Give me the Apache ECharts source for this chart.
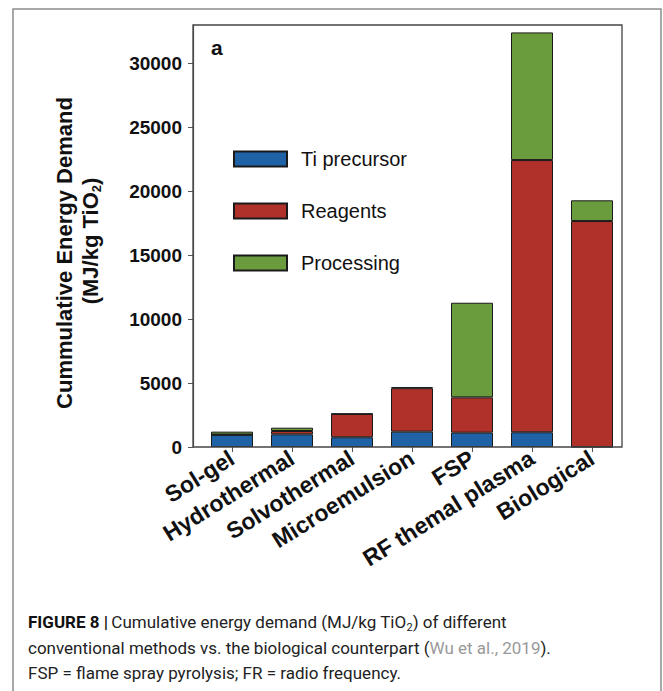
<!DOCTYPE html>
<html><head><meta charset="utf-8">
<script src="https://cdn.jsdelivr.net/npm/echarts@6/dist/echarts.min.js"></script>
<style>html,body{margin:0;padding:0;background:#fff}#c{width:663px;height:691px}</style>
</head><body><div id="c"></div>
<script>
const categories = ['Sol-gel', 'Hydrothermal', 'Solvothermal', 'Microemulsion', 'FSP', 'RF themal plasma', 'Biological'];
const tiPrecursor = [950, 990, 760, 1200, 1120, 1150, 0];
const reagents = [20, 260, 1820, 3400, 2760, 21290, 17670];
const processing = [230, 260, 30, 80, 7400, 9980, 1620];
const yTickValues = [0, 5000, 10000, 15000, 20000, 25000, 30000];
const seriesNames = ['Ti precursor', 'Reagents', 'Processing'];

const FONT = '"Liberation Sans", Arial, Helvetica, sans-serif';
const CAP_FONT = 'Roboto, "Liberation Sans", sans-serif';
const colors = ['#1f62a6', '#b0302a', '#6a9b3c'];

const chart = echarts.init(document.getElementById('c'), null, {renderer: 'svg'});

function mk(name, data, color) {
  return {
    name: name, type: 'bar', stack: 'total', data: data, barWidth: 42,
    itemStyle: {color: color, borderColor: '#1a1a1a', borderWidth: 1}
  };
}

const option = {
  animation: false,
  backgroundColor: '#fff',
  grid: {left: 202, right: 41, top: 25, bottom: 244},
  xAxis: {
    type: 'category', data: categories,
    axisLine: {show: false},
    axisTick: {show: true, alignWithLabel: true, length: 5, lineStyle: {color: '#555'}},
    axisLabel: {rotate: 32, interval: 0, fontFamily: FONT, fontWeight: 'bold', fontSize: 23, color: '#111', margin: 9}
  },
  yAxis: {
    type: 'value', min: 0, max: 33000, interval: 5000, offset: 9,
    splitLine: {show: false},
    axisLine: {show: true, lineStyle: {color: '#555', width: 1.2}},
    axisTick: {show: true, length: 5, lineStyle: {color: '#555'}, customValues: yTickValues},
    axisLabel: {fontFamily: FONT, fontWeight: 'bold', fontSize: 19, color: '#111', margin: 11,
      customValues: yTickValues, formatter: function (v) { return String(v); }}
  },
  legend: {
    orient: 'vertical', left: 233, top: 149, padding: 0, itemWidth: 53, itemHeight: 15, itemGap: 32,
    icon: 'rect',
    data: seriesNames,
    textStyle: {fontFamily: FONT, fontSize: 20, color: '#111', padding: [0, 0, 0, 9]}
  },
  series: [
    mk(seriesNames[0], tiPrecursor, colors[0]),
    mk(seriesNames[1], reagents, colors[1]),
    mk(seriesNames[2], processing, colors[2])
  ],
  graphic: [
    {type: 'rect', silent: true, z: 100, shape: {x: 13, y: 9, width: 648, height: 700},
     style: {fill: 'none', stroke: '#8c8c8c', lineWidth: 1.5}},
    {type: 'rect', silent: true, z: 100, shape: {x: 193, y: 25, width: 429, height: 422},
     style: {fill: 'none', stroke: '#444', lineWidth: 1.3}},
    {type: 'text', silent: true, x: 211, y: 47,
     style: {text: 'a', fontFamily: FONT, fontWeight: 'bold', fontSize: 21, fill: '#111', align: 'left', verticalAlign: 'middle'}},
    {type: 'text', silent: true, x: 64, y: 253, rotation: Math.PI / 2,
     style: {
       text: 'Cummulative Energy Demand', fontFamily: FONT, fontWeight: 'bold', fontSize: 22, fill: '#111',
       align: 'center', verticalAlign: 'middle'
     }},
    {type: 'text', silent: true, x: 90, y: 241, rotation: Math.PI / 2,
     style: {
       text: '{b|(MJ/kg TiO}{s|2}{b|)}',
       align: 'center', verticalAlign: 'middle',
       rich: {
         b: {fontFamily: FONT, fontWeight: 'bold', fontSize: 22, lineHeight: 26, fill: '#111'},
         s: {fontFamily: FONT, fontWeight: 'bold', fontSize: 13, lineHeight: 13, verticalAlign: 'bottom', fill: '#111'}
       }
     }},
    {type: 'text', silent: true, x: 28, y: 622,
     style: {
       text: '{b|FIGURE 8 |} {n|Cumulative energy demand (MJ/kg TiO}{s|2}{n|) of different}',
       align: 'left', verticalAlign: 'middle',
       rich: {
         b: {fontFamily: CAP_FONT, fontWeight: 'bold', fontSize: 17, lineHeight: 22, fill: '#111'},
         n: {fontFamily: CAP_FONT, fontSize: 17, lineHeight: 22, fill: '#222'},
         s: {fontFamily: CAP_FONT, fontSize: 11, lineHeight: 11, verticalAlign: 'bottom', fill: '#222'}
       }
     }},
    {type: 'text', silent: true, x: 28, y: 648,
     style: {
       text: '{n|conventional methods vs. the biological counterpart (}{g|Wu et al., 2019}{n|).}',
       align: 'left', verticalAlign: 'middle',
       rich: {
         n: {fontFamily: CAP_FONT, fontSize: 17, lineHeight: 22, fill: '#222'},
         g: {fontFamily: CAP_FONT, fontSize: 17, lineHeight: 22, fill: '#999'}
       }
     }},
    {type: 'text', silent: true, x: 28, y: 673,
     style: {text: 'FSP = flame spray pyrolysis; FR = radio frequency.', fontFamily: CAP_FONT, fontSize: 17, fill: '#222', align: 'left', verticalAlign: 'middle'}}
  ]
};
chart.setOption(option);
</script>
</body></html>
